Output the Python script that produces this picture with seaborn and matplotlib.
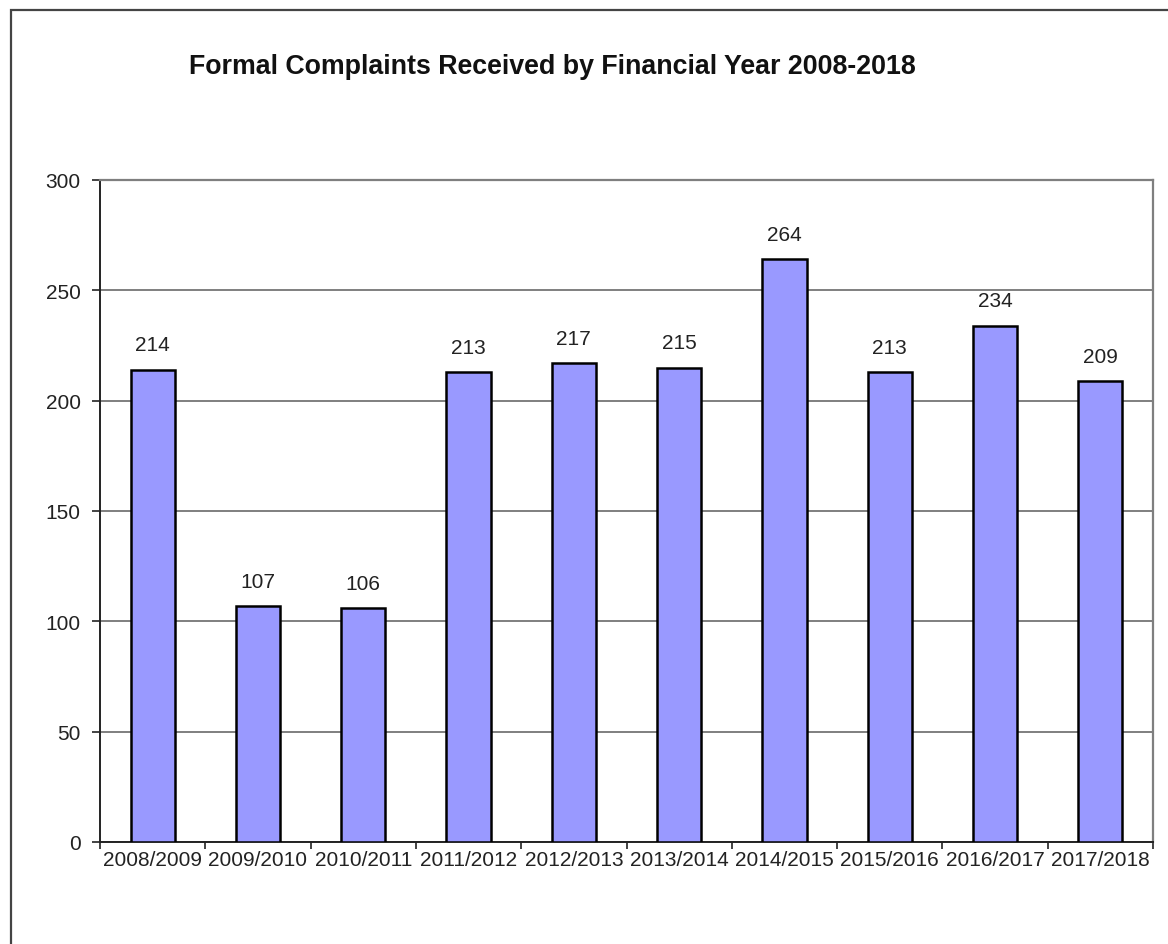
import matplotlib
matplotlib.use("Agg")
import matplotlib.pyplot as plt
import seaborn as sns
import pandas as pd
import numpy as np
from matplotlib.patches import Rectangle

years = ["2008/2009", "2009/2010", "2010/2011", "2011/2012", "2012/2013",
         "2013/2014", "2014/2015", "2015/2016", "2016/2017", "2017/2018"]
complaints = [214, 107, 106, 213, 217, 215, 264, 213, 234, 209]
y_ticks = [0, 50, 100, 150, 200, 250, 300]
title = "Formal Complaints Received by Financial Year 2008-2018"

sns.set_theme(style="white")
plt.rcParams["font.family"] = ["Liberation Sans", "DejaVu Sans"]

df = pd.DataFrame({"year": years, "complaints": complaints})

fig = plt.figure(figsize=(11.68, 9.45), dpi=100)
ax = fig.add_axes([100 / 1168, 1 - 843 / 945, 1053 / 1168, 662 / 945])

sns.barplot(data=df, x="year", y="complaints", color="#9999ff",
            saturation=1, width=0.42, edgecolor="black", linewidth=1.8,
            ax=ax, zorder=3)

ax.set_ylim(0, 300)
ax.set_xlim(-0.5, len(years) - 0.5)
ax.set_yticks(y_ticks)
ax.yaxis.grid(True, color="#7f7f7f", linewidth=1.4, zorder=0)
ax.set_axisbelow(True)
ax.set_xlabel("")
ax.set_ylabel("")

# category labels at bar centres, tick marks on the boundaries
ax.set_xticks(np.arange(len(years)))
ax.set_xticklabels(years)
ax.set_xticks(np.arange(len(years) + 1) - 0.5, minor=True)
ax.tick_params(axis="x", which="major", length=0, pad=6,
               labelsize=15, labelcolor="#222222")
ax.tick_params(axis="x", which="minor", length=5, width=1.2,
               color="#222222", bottom=True, direction="out")
ax.tick_params(axis="y", length=6, width=1.2, color="#222222", left=True,
               direction="out", labelsize=15, labelcolor="#222222", pad=8)

for side in ["left", "bottom"]:
    ax.spines[side].set_color("#222222")
    ax.spines[side].set_linewidth(1.4)
for side in ["top", "right"]:
    ax.spines[side].set_visible(True)
    ax.spines[side].set_color("#7f7f7f")
    ax.spines[side].set_linewidth(1.6)

for container in ax.containers:
    ax.bar_label(container, labels=[str(v) for v in complaints],
                 padding=11, fontsize=15, color="#222222")

fig.text(552 / 1168, 1 - 74 / 945, title, ha="center", va="baseline",
         fontsize=19.3, fontweight="bold", color="#111111")

# outer frame of the chart area
fig.patches.append(Rectangle((11 / 1168, -0.1), 1.2, 1 - 11 / 945 + 0.1,
                             transform=fig.transFigure, fill=False,
                             edgecolor="#444444", linewidth=1.6))

fig.savefig("out.png", dpi=100, facecolor="white")
